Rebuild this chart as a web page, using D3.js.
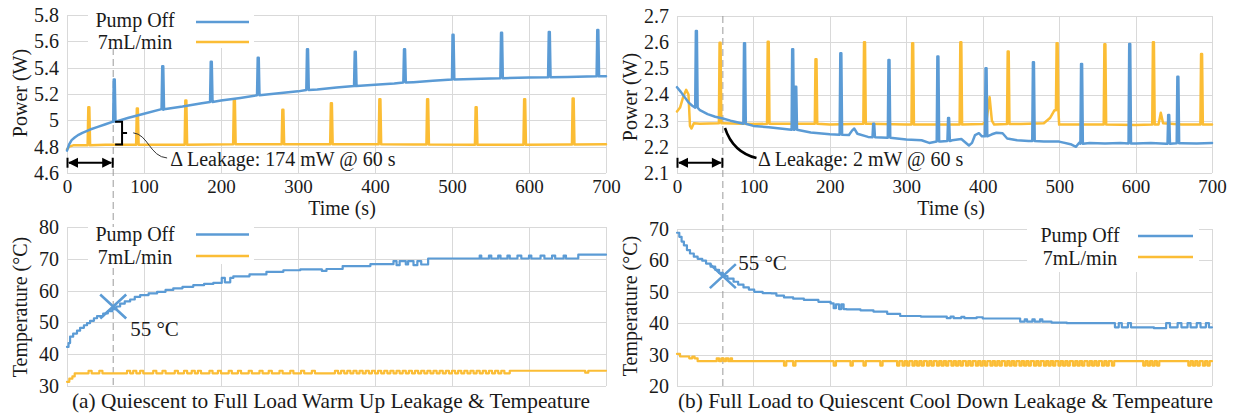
<!DOCTYPE html>
<html>
<head>
<meta charset="utf-8">
<script src="https://cdn.jsdelivr.net/npm/d3@7/dist/d3.min.js"></script>
<style>
  html, body { margin: 0; padding: 0; background: #fff; }
  svg { display: block; font-family: "Liberation Serif", "Times New Roman", serif; }
</style>
</head>
<body>
<svg id="chart" width="1239" height="418"></svg>
<script>
// ---------------- data ----------------
const timeTicks = [0, 100, 200, 300, 400, 500, 600, 700];
const warmPowerTicks = [4.6, 4.8, 5, 5.2, 5.4, 5.6, 5.8];
const coolPowerTicks = [2.1, 2.2, 2.3, 2.4, 2.5, 2.6, 2.7];
const warmTempTicks = [30, 40, 50, 60, 70, 80];
const coolTempTicks = [20, 30, 40, 50, 60, 70];
const seriesNames = ["Pump Off", "7mL/min"];
const captions = [
  "(a) Quiescent to Full Load Warm Up Leakage & Tempeature",
  "(b) Full Load to Quiescent Cool Down Leakage & Tempeature"
];

// (a) warm up, power [time s, W]; spikes are [time s, base W, peak W]
const warmPumpOffPower = [[0,4.77],[3,4.82],[6,4.85],[10,4.87],[15,4.89],[20,4.905],[30,4.93],[40,4.95],[50,4.97],[60,4.99],[80,5.02],[100,5.05],[125,5.08],[150,5.105],[175,5.13],[200,5.15],[225,5.17],[250,5.19],[275,5.205],[300,5.22],[325,5.235],[350,5.25],[375,5.26],[400,5.27],[425,5.28],[450,5.29],[475,5.30],[500,5.31],[550,5.318],[600,5.325],[650,5.33],[700,5.335]];
const warmPumpOffSpikes = [[61,4.99,5.31],[124,5.085,5.41],[187,5.14,5.445],[248,5.19,5.475],[312,5.23,5.54],[374,5.26,5.52],[438,5.287,5.54],[501,5.31,5.65],[564,5.32,5.665],[626,5.327,5.67],[689,5.334,5.686]];
const warmPumpOnPower = [[0,4.78],[3,4.80],[8,4.81],[50,4.815],[150,4.815],[250,4.818],[350,4.818],[450,4.816],[550,4.815],[650,4.817],[700,4.818]];
const warmPumpOnSpikes = [[28,4.81,5.10],[91,4.815,5.09],[154,4.815,5.15],[217,4.818,5.16],[280,4.818,5.08],[343,4.818,5.13],[406,4.818,5.16],[468,4.816,5.16],[531,4.815,5.10],[594,4.815,5.16],[657,4.817,5.165]];

// (b) cool down, power
const coolPumpOffPower = [[0,2.428],[5,2.41],[10,2.39],[15,2.37],[20,2.357],[30,2.34],[40,2.325],[50,2.315],[60,2.308],[70,2.30],[80,2.293],[100,2.28],[120,2.275],[150,2.265],[175,2.255],[200,2.248],[225,2.245],[229,2.262],[232,2.27],[236,2.25],[250,2.238],[275,2.235],[300,2.228],[320,2.225],[330,2.215],[345,2.22],[360,2.225],[372,2.23],[382,2.205],[386,2.215],[390,2.245],[395,2.252],[399,2.24],[412,2.248],[418,2.254],[426,2.252],[432,2.232],[445,2.225],[460,2.222],[480,2.22],[500,2.22],[515,2.21],[522,2.2],[526,2.215],[540,2.215],[560,2.213],[580,2.215],[600,2.213],[620,2.215],[640,2.212],[660,2.214],[680,2.213],[700,2.215]];
const coolPumpOffSpikes = [[25,2.35,2.643],[88,2.288,2.596],[151,2.265,2.573],[155,2.265,2.43],[214,2.246,2.558],[257,2.237,2.288],[277,2.235,2.532],[341,2.22,2.545],[355,2.222,2.31],[404,2.24,2.50],[466,2.222,2.523],[529,2.212,2.517],[592,2.213,2.593],[643,2.212,2.322],[655,2.214,2.468]];
const coolPumpOnPower = [[0,2.335],[4,2.35],[8,2.39],[12,2.418],[15,2.40],[17,2.28],[19,2.27],[22,2.29],[30,2.288],[60,2.29],[100,2.287],[150,2.288],[200,2.285],[250,2.288],[300,2.285],[350,2.285],[400,2.287],[405,2.30],[409,2.39],[412,2.30],[415,2.285],[450,2.287],[480,2.29],[488,2.31],[494,2.34],[500,2.285],[550,2.285],[600,2.283],[630,2.285],[633,2.33],[636,2.29],[660,2.285],[700,2.285]];
const coolPumpOnSpikes = [[56,2.29,2.598],[119,2.288,2.602],[181.5,2.288,2.535],[245,2.288,2.60],[308,2.285,2.596],[371,2.285,2.60],[433,2.287,2.564],[497,2.34,2.596],[559.5,2.285,2.592],[623,2.285,2.60],[686,2.285,2.555]];

// (a) warm up, temperature [time s, °C] (step readings)
const warmPumpOffTemp = [[0,42.3],[2,43.5],[4,45.5],[8,46.5],[13,47.4],[17,48.3],[22,49.1],[26,49.8],[30,50.5],[35,51.3],[39,52],[47,52.8],[53,53.5],[59,54.2],[64,55],[69,55.9],[75,56.6],[82,57.2],[88,58],[95,58.6],[106,59.1],[117,59.6],[128,60.2],[138,60.7],[150,61.2],[164,61.7],[178,62.1],[190,62.4],[201,64],[205,62.6],[212,64],[216,64.5],[237,65.1],[259,65.9],[281,66.4],[303,66.7],[331,66.2],[337,66.8],[358,67.7],[394,68.3],[424,69.3],[428,68],[432,69.3],[440,68.2],[443,69.3],[450,68],[455,69.3],[460,68.2],[469,70.1],[536,71],[538,70.1],[548,71],[551,70.1],[560,71],[563,70.1],[572,71],[575,70.1],[585,71],[590,70.1],[600,71],[603,70.1],[615,71],[620,70.1],[630,71],[634,70.1],[645,71],[648,70.1],[664,71.3],[700,71.3]];
const warmPumpOnTemp = [[0,31.3],[3,32.3],[7,33],[10,34],[348,34],[575,34.8],[673,34.2],[677,34.8],[700,34.8]];
const warmPumpOnBlips = [28,42,78,86,95,112,124,140,152,162,170,185,196,210,222,236,250,262,276,290,304,318,348,356,364,372,380,388,396,404,412,420,428,436,444,452,460,468,476,484,492,500,508,516,524,532,540,548,556,564];

// (b) cool down, temperature
const coolPumpOffTemp = [[0,68.8],[3,67.5],[6,66],[9,64.8],[13,63.3],[17,62.2],[22,61.2],[27,60.5],[33,59.9],[38,59],[44,58],[50,57],[55,56],[60,55],[66,54.2],[74,53.2],[80,52.3],[87,51.4],[94,50.7],[101,50],[112,49.6],[123,49.5],[130,48.8],[140,48.2],[152,47.8],[166,47.4],[185,46.8],[201,46.3],[205,44.8],[208,46],[212,44.5],[215,46],[218,44.5],[222,44.4],[240,44.1],[257,43.7],[275,43],[292,42.3],[319,42.1],[353,41.6],[358,42.1],[362,41.6],[372,42],[376,41.6],[392,41.9],[400,41.5],[449,40.5],[455,41.2],[458,40.5],[465,41.2],[468,40.5],[475,41.2],[478,40.5],[490,40.2],[510,40],[573,38.7],[578,40],[582,38.7],[590,40],[594,38.7],[624,38.4],[640,40],[645,38.7],[655,40],[660,38.7],[668,40],[672,38.7],[680,40],[685,38.7],[692,40],[696,38.7],[700,38.7]];
const coolPumpOnTemp = [[0,30.2],[4,29.4],[12,29.4],[16,28.8],[20,29.4],[23,28.8],[27,27.9],[52,28.8],[55,27.9],[58,28.8],[61,27.9],[64,28.8],[67,27.9],[70,28.8],[72,27.9],[700,27.9]];
const coolPumpOnDips = [140,152,205,227,244,266,288,295,301,308,314,320,327,333,340,346,352,359,365,371,378,384,391,397,403,410,416,422,429,435,441,448,454,460,467,473,480,486,492,499,505,511,518,524,530,537,543,549,556,562,569,610,616,622,628,669,675,681,688,694];

// annotation values
const markTime = 60;               // s, reference time
const markTemp = 55;               // °C at reference time
const warmLeakage = { top: 4.99, bottom: 4.816 };   // 174 mW gap at 60 s
const warmLeakageText = "\u0394 Leakage: 174 mW @ 60 s";
const coolLeakageText = "\u0394 Leakage: 2 mW @ 60 s";

// ---------------- helpers ----------------
const BLUE = "#5b9bd5", GOLD = "#fbbd35", GRID = "#d9d9d9", INK = "#1a1a1a";

// merge a baseline with narrow sampling spikes [t, base, peak]
function withSpikes(base, spikes) {
  const pts = base.map(d => d.slice());
  spikes.forEach(([t, b, p]) => {
    pts.push([t - 1.2, b], [t - 0.3, p], [t + 1.0, p], [t + 2.0, b]);
  });
  return pts.sort((a, b) => a[0] - b[0]);
}
// value of a step series at time t
function stepValue(series, t) {
  let v = series[0][1];
  for (const d of series) { if (d[0] <= t) v = d[1]; else break; }
  return v;
}
// short excursions of a step series to a given level
function withBlips(series, times, level, width) {
  const pts = series.map(d => d.slice());
  times.forEach(t => {
    const back = stepValue(series, t);
    pts.push([t, level], [t + width, back]);
  });
  return pts.sort((a, b) => a[0] - b[0]);
}

const svg = d3.select("#chart");

const warmX = d3.scaleLinear().domain([0, 700]).range([67, 606]);
const coolX = d3.scaleLinear().domain([0, 700]).range([677, 1212]);
const warmPowerY = d3.scaleLinear().domain([4.6, 5.8]).range([173, 15]);
const coolPowerY = d3.scaleLinear().domain([2.1, 2.7]).range([173, 16]);
const warmTempY = d3.scaleLinear().domain([30, 80]).range([386, 227]);
const coolTempY = d3.scaleLinear().domain([20, 70]).range([386, 229]);

const gridLayer = svg.append("g");
const dashLayer = svg.append("g");
const boxLayer = svg.append("g");
const dataLayer = svg.append("g");
const noteLayer = svg.append("g");
const textLayer = svg.append("g");

function panel(x, y, yTicks, showX) {
  const [x0, x1] = x.range();
  const [yb, yt] = y.range();
  const g = gridLayer.append("g");
  g.selectAll(".h").data(yTicks).join("line")
    .attr("x1", x0).attr("x2", x1)
    .attr("y1", d => Math.round(y(d)) + 0.5).attr("y2", d => Math.round(y(d)) + 0.5)
    .attr("stroke", GRID).attr("stroke-width", 1);
  g.selectAll(".v").data(timeTicks).join("line")
    .attr("x1", d => Math.round(x(d)) + 0.5).attr("x2", d => Math.round(x(d)) + 0.5)
    .attr("y1", yt).attr("y2", yb)
    .attr("stroke", GRID).attr("stroke-width", 1);

  const ya = textLayer.append("g").attr("transform", `translate(${x0},0)`)
    .call(d3.axisLeft(y).tickValues(yTicks).tickSize(0).tickPadding(8).tickFormat(d => String(d)));
  ya.select(".domain").remove();
  ya.selectAll("text").attr("font-size", 20).attr("fill", INK)
    .attr("font-family", "'Liberation Serif', 'Times New Roman', serif");

  if (showX) {
    const xa = textLayer.append("g").attr("transform", `translate(0,${yb})`)
      .call(d3.axisBottom(x).tickValues(timeTicks).tickSize(0).tickPadding(7).tickFormat(d => String(d)));
    xa.select(".domain").remove();
    xa.selectAll("text").attr("font-size", 19).attr("fill", INK)
      .attr("font-family", "'Liberation Serif', 'Times New Roman', serif");
  }
}

panel(warmX, warmPowerY, warmPowerTicks, true);
panel(coolX, coolPowerY, coolPowerTicks, true);
panel(warmX, warmTempY, warmTempTicks, false);
panel(coolX, coolTempY, coolTempTicks, false);

// axis titles
function vTitle(text, cx, cy) {
  textLayer.append("text").attr("transform", `translate(${cx},${cy}) rotate(-90)`)
    .attr("text-anchor", "middle").attr("dy", "0.35em")
    .attr("font-size", 20).attr("fill", INK).text(text);
}
vTitle("Power (W)", 20, 93);
vTitle("Power (W)", 630, 97);
vTitle("Temperature (\u00B0C)", 20, 307);
vTitle("Temperature (\u00B0C)", 630, 306);
textLayer.append("text").attr("x", 342).attr("y", 215).attr("text-anchor", "middle")
  .attr("font-size", 20).attr("fill", INK).text("Time (s)");
textLayer.append("text").attr("x", 951).attr("y", 215).attr("text-anchor", "middle")
  .attr("font-size", 20).attr("fill", INK).text("Time (s)");

// captions
textLayer.append("text").attr("x", 72).attr("y", 408)
  .attr("font-size", 21).attr("fill", INK)
  .attr("textLength", 518).attr("lengthAdjust", "spacingAndGlyphs").text(captions[0]);
textLayer.append("text").attr("x", 678).attr("y", 408)
  .attr("font-size", 21).attr("fill", INK)
  .attr("textLength", 535).attr("lengthAdjust", "spacingAndGlyphs").text(captions[1]);

// dashed reference lines at 60 s, spanning power and temperature panels
dashLayer.append("line")
  .attr("x1", warmX(markTime)).attr("x2", warmX(markTime))
  .attr("y1", warmPowerY(5.8)).attr("y2", warmTempY(30))
  .attr("stroke", "#9a9a9a").attr("stroke-width", 1).attr("stroke-dasharray", "7,4");
dashLayer.append("line")
  .attr("x1", coolX(markTime)).attr("x2", coolX(markTime))
  .attr("y1", coolPowerY(2.7)).attr("y2", coolTempY(20))
  .attr("stroke", "#9a9a9a").attr("stroke-width", 1).attr("stroke-dasharray", "7,4");

// legends
function legend(box, textX, lineX0, lineX1, rows) {
  boxLayer.append("rect").attr("x", box[0]).attr("y", box[1])
    .attr("width", box[2]).attr("height", box[3]).attr("fill", "#fff");
  rows.forEach((r, i) => {
    textLayer.append("text").attr("x", textX).attr("y", r.base)
      .attr("text-anchor", "middle").attr("font-size", 20).attr("fill", INK)
      .text(seriesNames[i]);
    textLayer.append("line").attr("x1", lineX0).attr("x2", lineX1)
      .attr("y1", r.line).attr("y2", r.line)
      .attr("stroke", i === 0 ? BLUE : GOLD).attr("stroke-width", 2.5);
  });
}
legend([88, 15, 166, 33], 135, 196, 249, [{ base: 26.5, line: 22 }, { base: 49, line: 42 }]);
legend([88, 227, 166, 37], 135, 196, 249, [{ base: 241, line: 234.5 }, { base: 263.5, line: 256 }]);
legend([1027, 229, 172, 43], 1080, 1138, 1193, [{ base: 242, line: 236 }, { base: 264.5, line: 257 }]);

// series
function drawLine(data, x, y, color, width, curve) {
  dataLayer.append("path").datum(data)
    .attr("fill", "none").attr("stroke", color).attr("stroke-width", width)
    .attr("stroke-linejoin", "round").attr("stroke-linecap", "round")
    .attr("d", d3.line().x(d => x(d[0])).y(d => y(d[1])).curve(curve || d3.curveLinear));
}
drawLine(withSpikes(warmPumpOnPower, warmPumpOnSpikes), warmX, warmPowerY, GOLD, 2.5);
drawLine(withSpikes(warmPumpOffPower, warmPumpOffSpikes), warmX, warmPowerY, BLUE, 2.5);
drawLine(withSpikes(coolPumpOnPower, coolPumpOnSpikes), coolX, coolPowerY, GOLD, 2.5);
drawLine(withSpikes(coolPumpOffPower, coolPumpOffSpikes), coolX, coolPowerY, BLUE, 2.5);

drawLine(withBlips(warmPumpOnTemp, warmPumpOnBlips, 34.8, 4), warmX, warmTempY, GOLD, 2.2, d3.curveStepAfter);
drawLine(warmPumpOffTemp, warmX, warmTempY, BLUE, 2.2, d3.curveStepAfter);
drawLine(withBlips(coolPumpOnTemp, coolPumpOnDips, 26.5, 3), coolX, coolTempY, GOLD, 2.2, d3.curveStepAfter);
drawLine(coolPumpOffTemp, coolX, coolTempY, BLUE, 2.2, d3.curveStepAfter);

// 55 °C cross markers
function cross(cx, cy) {
  noteLayer.append("path")
    .attr("d", `M${cx - 13},${cy - 12}L${cx + 13},${cy + 12}M${cx + 13},${cy - 12}L${cx - 13},${cy + 12}`)
    .attr("stroke", BLUE).attr("stroke-width", 2.6).attr("fill", "none");
}
cross(warmX(markTime), warmTempY(markTemp));
cross(coolX(markTime), coolTempY(markTemp));
textLayer.append("text").attr("x", warmX(82)).attr("y", warmTempY(45.7))
  .attr("font-size", 21).attr("fill", INK).text(markTemp + " \u00B0C");
textLayer.append("text").attr("x", coolX(80)).attr("y", coolTempY(56.9))
  .attr("font-size", 21).attr("fill", INK).text(markTemp + " \u00B0C");

// double-headed span arrows from 0 to 60 s
function spanArrow(x, yv) {
  const xa = x(0), xb = x(markTime), yy = yv;
  const g = noteLayer.append("g").attr("stroke", "#000").attr("fill", "#000");
  g.append("line").attr("x1", xa + 2).attr("x2", xb - 2).attr("y1", yy).attr("y2", yy).attr("stroke-width", 2);
  g.append("line").attr("x1", xa + 0.5).attr("x2", xa + 0.5).attr("y1", yy - 5).attr("y2", yy + 5).attr("stroke-width", 2);
  g.append("line").attr("x1", xb - 0.5).attr("x2", xb - 0.5).attr("y1", yy - 5).attr("y2", yy + 5).attr("stroke-width", 2);
  g.append("path").attr("stroke", "none")
    .attr("d", `M${xa + 1},${yy}L${xa + 11},${yy - 5}L${xa + 11},${yy + 5}Z`);
  g.append("path").attr("stroke", "none")
    .attr("d", `M${xb - 1},${yy}L${xb - 11},${yy - 5}L${xb - 11},${yy + 5}Z`);
}
spanArrow(warmX, warmPowerY(4.678));
spanArrow(coolX, coolPowerY(2.139));

// brace marking the leakage gap at 60 s
{
  const xl = warmX(62.5), xr = warmX(71.5), xt = warmX(78);
  const yt = warmPowerY(warmLeakage.top), yb = warmPowerY(warmLeakage.bottom);
  const ym = (yt + yb) / 2;
  noteLayer.append("path")
    .attr("d", `M${xl},${yt}L${xr},${yt}L${xr},${yb}L${xl},${yb}M${xr},${ym}L${xt},${ym}`)
    .attr("fill", "none").attr("stroke", "#000").attr("stroke-width", 2);
  noteLayer.append("path")
    .attr("d", `M${warmX(86)},${warmPowerY(4.905)}C${warmX(105)},${warmPowerY(4.896)} ${warmX(108)},${warmPowerY(4.722)} ${warmX(130)},${warmPowerY(4.714)}`)
    .attr("fill", "none").attr("stroke", "#333").attr("stroke-width", 1);
  textLayer.append("text").attr("x", warmX(134)).attr("y", warmPowerY(4.655))
    .attr("font-size", 20).attr("fill", INK).text(warmLeakageText);
}
{
  noteLayer.append("path")
    .attr("d", `M${coolX(62.8)},${coolPowerY(2.272)}Q${coolX(73)},${coolPowerY(2.18)} ${coolX(104)},${coolPowerY(2.157)}`)
    .attr("fill", "none").attr("stroke", "#000").attr("stroke-width", 2.5);
  textLayer.append("text").attr("x", coolX(106)).attr("y", coolPowerY(2.125))
    .attr("font-size", 20).attr("fill", INK).text(coolLeakageText);
}
</script>
</body>
</html>
